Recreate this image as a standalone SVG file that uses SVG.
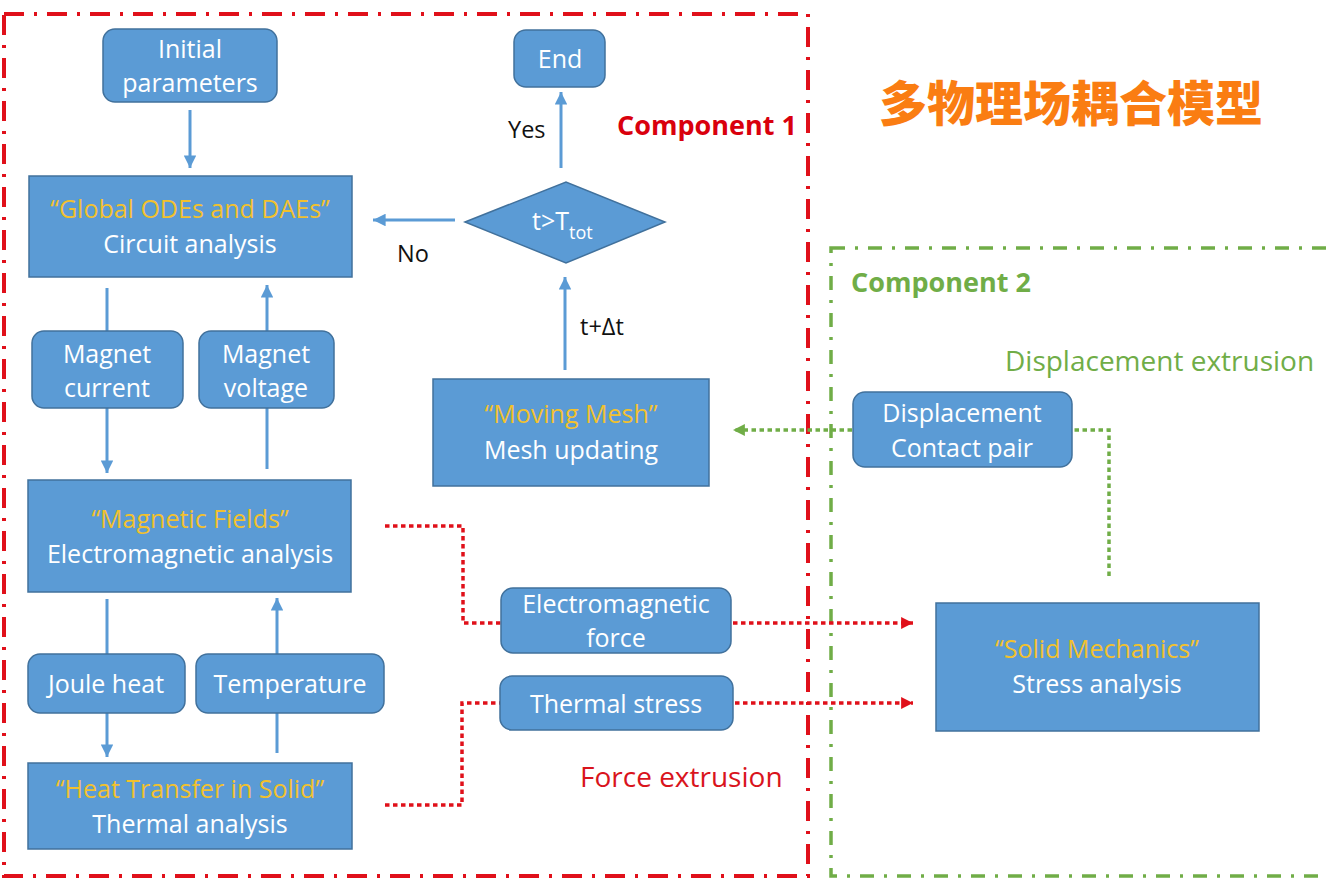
<svg xmlns="http://www.w3.org/2000/svg" width="1326" height="879" viewBox="0 0 1326 879">
<style>
.box{fill:#5b9bd5;stroke:#41719c;stroke-width:1.5}
.t{font-family:"Open Sans","Noto Sans",sans-serif;font-size:25px;fill:#ffffff;text-anchor:middle}
.y{fill:#f2c12e}
.lbl{font-family:"Open Sans","Noto Sans",sans-serif;font-size:23.5px;fill:#111111}
.flow{stroke:#5b9bd5;stroke-width:3;fill:none}
.rdot{stroke:#e0101a;stroke-width:3.5;fill:none;stroke-dasharray:4.5 3.5}
.gdot{stroke:#70ad47;stroke-width:3.5;fill:none;stroke-dasharray:4.5 3.5}
</style>
<defs>
<marker id="ab" viewBox="0 0 10 10" refX="10" refY="5" markerWidth="4.2" markerHeight="4.2" orient="auto" markerUnits="strokeWidth"><path d="M0,0 L10,5 L0,10 z" fill="#5b9bd5"/></marker>
<marker id="ar" viewBox="0 0 10 10" refX="10" refY="5" markerWidth="3.4" markerHeight="3.4" orient="auto" markerUnits="strokeWidth"><path d="M0,0 L10,5 L0,10 z" fill="#e0101a"/></marker>
<marker id="ag" viewBox="0 0 10 10" refX="10" refY="5" markerWidth="3.4" markerHeight="3.4" orient="auto" markerUnits="strokeWidth"><path d="M0,0 L10,5 L0,10 z" fill="#70ad47"/></marker>
</defs>
<rect width="1326" height="879" fill="#ffffff"/>

<g id="frames">
<rect x="4" y="14" width="804" height="862" fill="none" stroke="#e0101a" stroke-width="4" stroke-dasharray="20 10 3 10"/>
<rect x="831" y="248" width="540" height="628" fill="none" stroke="#70ad47" stroke-width="3.5" stroke-dasharray="14 10 3 10"/>
</g>

<g id="labels">
<text x="1071" y="121" font-family="'Noto Sans CJK SC','Noto Sans CJK JP',sans-serif" font-size="48" font-weight="900" fill="#fa7d12" text-anchor="middle">多物理场耦合模型</text>
<text x="617" y="135" font-family="'Open Sans',sans-serif" font-size="27" font-weight="bold" fill="#d9000d">Component 1</text>
<text x="851" y="292" font-family="'Open Sans',sans-serif" font-size="27" font-weight="bold" fill="#70ad47">Component 2</text>
<text x="1005" y="371" font-family="'Open Sans',sans-serif" font-size="28" fill="#70ad47">Displacement extrusion</text>
<text x="580" y="787" font-family="'Open Sans',sans-serif" font-size="28" fill="#d9141c">Force extrusion</text>
<text class="lbl" x="508" y="138">Yes</text>
<text class="lbl" x="397" y="262">No</text>
<text class="lbl" x="580" y="335" font-size="25">t+Δt</text>
</g>

<g id="connectors">
<line class="flow" x1="190" y1="110" x2="190" y2="168" marker-end="url(#ab)"/>
<line class="flow" x1="455" y1="220" x2="373" y2="220" marker-end="url(#ab)"/>
<line class="flow" x1="561" y1="168" x2="561" y2="92" marker-end="url(#ab)"/>
<line class="flow" x1="565" y1="370" x2="565" y2="277" marker-end="url(#ab)"/>
<line class="flow" x1="107" y1="288" x2="107" y2="331"/>
<line class="flow" x1="107" y1="408" x2="107" y2="473" marker-end="url(#ab)"/>
<line class="flow" x1="267" y1="469" x2="267" y2="408"/>
<line class="flow" x1="267" y1="331" x2="267" y2="285" marker-end="url(#ab)"/>
<line class="flow" x1="107" y1="599" x2="107" y2="654"/>
<line class="flow" x1="107" y1="713" x2="107" y2="757" marker-end="url(#ab)"/>
<line class="flow" x1="277" y1="753" x2="277" y2="713"/>
<line class="flow" x1="277" y1="654" x2="277" y2="598" marker-end="url(#ab)"/>
<path class="rdot" d="M385,526 H463 V623 H501"/>
<line class="rdot" x1="733" y1="623" x2="913" y2="623" marker-end="url(#ar)"/>
<path class="rdot" d="M385,805 H462 V703 H500"/>
<line class="rdot" x1="735" y1="703" x2="913" y2="703" marker-end="url(#ar)"/>
<path class="gdot" d="M1109,576 V430 H1073"/>
<line class="gdot" x1="852" y1="430" x2="733" y2="430" marker-end="url(#ag)"/>
</g>

<g id="n-initial"><rect class="box" x="103" y="29" width="174" height="73" rx="12"/><text class="t" x="190" y="58">Initial</text><text class="t" x="190" y="92">parameters</text></g>
<g id="n-global"><rect class="box" x="29" y="176" width="323" height="101"/><text class="t y" x="190" y="218">“Global ODEs and DAEs”</text><text class="t" x="190" y="253">Circuit analysis</text></g>
<g id="n-mcurrent"><rect class="box" x="32" y="331" width="151" height="77" rx="12"/><text class="t" x="107" y="363">Magnet</text><text class="t" x="107" y="397">current</text></g>
<g id="n-mvoltage"><rect class="box" x="199" y="331" width="135" height="77" rx="12"/><text class="t" x="266" y="363">Magnet</text><text class="t" x="266" y="397">voltage</text></g>
<g id="n-magnetic"><rect class="box" x="28" y="480" width="323" height="112"/><text class="t y" x="190" y="528">“Magnetic Fields”</text><text class="t" x="190" y="563">Electromagnetic analysis</text></g>
<g id="n-joule"><rect class="box" x="28" y="654" width="157" height="59" rx="12"/><text class="t" x="106" y="693">Joule heat</text></g>
<g id="n-temperature"><rect class="box" x="196" y="654" width="188" height="59" rx="12"/><text class="t" x="290" y="693">Temperature</text></g>
<g id="n-heat"><rect class="box" x="28" y="763" width="324" height="86"/><text class="t y" x="190" y="798">“Heat Transfer in Solid”</text><text class="t" x="190" y="833">Thermal analysis</text></g>
<g id="n-end"><rect class="box" x="514" y="30" width="91" height="57" rx="12"/><text class="t" x="560" y="68">End</text></g>
<g id="n-decision"><polygon class="box" points="465,222 566,182 665,222 566,263"/><text class="t" x="532" y="230" style="text-anchor:start">t&gt;T<tspan font-size="18" dy="9">tot</tspan></text></g>
<g id="n-mesh"><rect class="box" x="433" y="379" width="276" height="107"/><text class="t y" x="571" y="423">“Moving Mesh”</text><text class="t" x="571" y="459">Mesh updating</text></g>
<g id="n-emforce"><rect class="box" x="501" y="588" width="230" height="65" rx="12"/><text class="t" x="616" y="613">Electromagnetic</text><text class="t" x="616" y="647">force</text></g>
<g id="n-tstress"><rect class="box" x="500" y="676" width="233" height="54" rx="12"/><text class="t" x="616" y="713">Thermal stress</text></g>
<g id="n-displacement"><rect class="box" x="853" y="392" width="219" height="75" rx="12"/><text class="t" x="962" y="422">Displacement</text><text class="t" x="962" y="457">Contact pair</text></g>
<g id="n-solid"><rect class="box" x="936" y="603" width="323" height="128"/><text class="t y" x="1097" y="658">“Solid Mechanics”</text><text class="t" x="1097" y="693">Stress analysis</text></g>
</svg>
